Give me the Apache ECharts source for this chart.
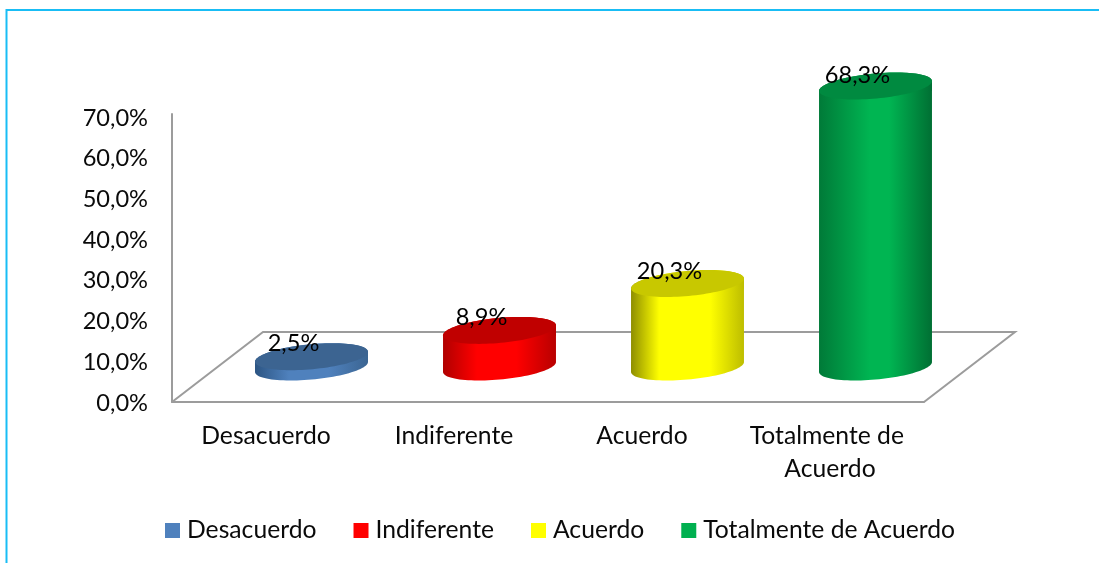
<!DOCTYPE html>
<html><head><meta charset="utf-8">
<style>html,body{margin:0;padding:0;background:#fff}#c{width:1099px;height:563px}</style>
<script src="https://cdn.jsdelivr.net/npm/echarts@6/dist/echarts.min.js"></script>
</head><body><div id="c"></div>
<script>
const categories = ['Desacuerdo','Indiferente','Acuerdo','Totalmente de Acuerdo'];
const values = [2.5, 8.9, 20.3, 68.3];
const sideEdgeLeft  = ['#2c5583','#b00000','#8e8e00','#007a38'];
const sideCenter    = ['#4f81bd','#ff0000','#ffff00','#00b552'];
const sideEdgeRight = ['#3b6592','#b80000','#bdbd00','#006f33'];
const gradStart     = [0.3, 0.3, 0.25, 0.45];
const gradEnd       = [0.65, 0.65, 0.7, 0.62];
const topColors     = ['#3c6491','#c00000','#c8c800','#008a40'];
const legendColors  = ['#4f81bd','#ff0000','#ffff00','#00b050'];

const FONT = 'Lato', GREY = '#9c9c9c', TXT = '#0a0a0a', FS = 24.7, FS_NUM = 23.6;
const DX = 91, DY = 70;              // floor depth
const RX = 56.7, RY = 12.5, TILT = 5.3 * Math.PI / 180;
const fmt = v => v.toFixed(1).replace('.', ',') + '%';

function ellipsePt(cx, cy, t) {
  const x = RX * Math.cos(t), y = RY * Math.sin(t);
  return [cx + x * Math.cos(TILT) + y * Math.sin(TILT), cy - x * Math.sin(TILT) + y * Math.cos(TILT)];
}
function extremeT() { return Math.atan2(RY * Math.sin(TILT), RX * Math.cos(TILT)); }

function cylinder(i) {
  return function (params, api) {
    const base = api.coord([api.value(0), 0]);
    const top = api.coord([api.value(0), api.value(1)]);
    const cx = base[0] + DX / 2, by = base[1] - DY / 2, ty = top[1] - DY / 2;
    const t0 = extremeT();
    const pts = [];
    const N = 48;
    for (let k = 0; k <= N; k++) pts.push(ellipsePt(cx, by, t0 + Math.PI * k / N));
    for (let k = 0; k <= N; k++) pts.push(ellipsePt(cx, ty, t0 + Math.PI + Math.PI * k / N));
    const topPts = [];
    for (let k = 0; k < 96; k++) topPts.push(ellipsePt(cx, ty, 2 * Math.PI * k / 96));
    return { type: 'group', children: [
      { type: 'polygon', shape: { points: pts }, style: { fill: { type: 'linear', x: 0, y: 0, x2: 1, y2: 0, colorStops: [
          { offset: 0, color: sideEdgeLeft[i] }, { offset: gradStart[i], color: sideCenter[i] },
          { offset: gradEnd[i], color: sideCenter[i] }, { offset: 1, color: sideEdgeRight[i] } ] } } },
      { type: 'polygon', shape: { points: topPts }, style: { fill: topColors[i] } },
      { type: 'text', x: cx - 18, y: by - (by - ty) * 0.99 - 13, style: { text: fmt(api.value(1)), font: FS_NUM + 'px ' + FONT, fill: '#000', align: 'center', verticalAlign: 'middle' } }
    ] };
  };
}

const series = categories.map((name, i) => ({
  type: 'custom', name, xAxisIndex: 1, yAxisIndex: 1, z: 3,
  itemStyle: { color: legendColors[i] },
  data: [[i, values[i]]],
  encode: { x: 0, y: 1 },
  renderItem: cylinder(i)
}));
series.unshift({
  type: 'custom', xAxisIndex: 1, yAxisIndex: 1, z: 1, silent: true, data: [[0, 0]],
  renderItem: (params) => {
    const c = params.coordSys, b = c.y + c.height, r = c.x + c.width;
    return { type: 'polyline', shape: { points: [[c.x, b], [c.x + DX, b - DY], [r + DX, b - DY], [r, b]] },
      style: { stroke: GREY, lineWidth: 2, fill: null } };
  }
});

const chart = echarts.init(document.getElementById('c'), null, { renderer: 'canvas' });
chart.setOption({
  animation: false, backgroundColor: '#fff',
  graphic: [{ type: 'polyline', silent: true, z: 0,
    shape: { points: [[6.5, 563], [6.5, 10], [1099, 10]] },
    style: { stroke: '#19bdf5', lineWidth: 2, fill: null } }],
  grid: [
    { left: 172, right: 176, top: 118, bottom: 160 },
    { left: 172, right: 175, top: 114, bottom: 161 }
  ],
  xAxis: [
    { gridIndex: 0, type: 'category', data: categories, show: false },
    { gridIndex: 1, type: 'category', data: categories,
      axisLine: { lineStyle: { color: GREY, width: 2 } }, axisTick: { show: false },
      axisLabel: { fontFamily: FONT, fontSize: FS, color: TXT, margin: 18, lineHeight: 33, width: 175, overflow: 'break', interval: 0 } }
  ],
  yAxis: [
    { gridIndex: 0, type: 'value', min: 0, max: 70, interval: 10, splitLine: { show: false },
      axisLine: { show: false }, axisTick: { show: false },
      axisLabel: { fontFamily: FONT, fontSize: FS_NUM, color: TXT, margin: 24, formatter: fmt } },
    { gridIndex: 1, type: 'value', min: 0, max: 70, interval: 10, splitLine: { show: false },
      axisLine: { show: true, lineStyle: { color: GREY, width: 2 } }, axisTick: { show: false }, axisLabel: { show: false } }
  ],
  legend: { left: 165, top: 518, padding: 0, itemWidth: 15, itemHeight: 15, itemGap: 37, icon: 'rect',
    data: categories, selectedMode: false,
    textStyle: { fontFamily: FONT, fontSize: FS, color: TXT, padding: [0, 0, 0, 2] } },
  series
});
</script></body></html>
